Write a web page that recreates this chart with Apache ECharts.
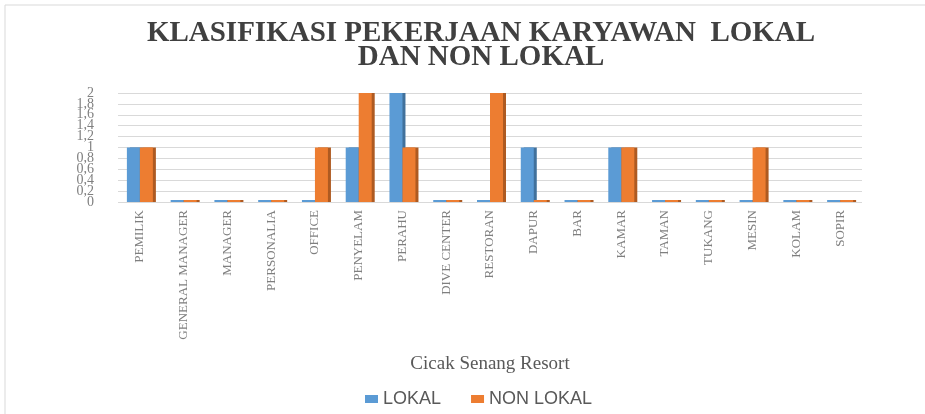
<!DOCTYPE html>
<html>
<head>
<meta charset="UTF-8"/>
<title>Klasifikasi Pekerjaan</title>
<script src="https://cdn.jsdelivr.net/npm/echarts@6/dist/echarts.min.js"></script>
<style>
html,body{margin:0;padding:0;background:#fff;}
#placeholder{width:925px;height:414px;}
</style>
</head>
<body>
<div id="placeholder"></div>
<script type="text/javascript">
var categories = ['PEMILIK','GENERAL MANAGER','MANAGER','PERSONALIA','OFFICE','PENYELAM','PERAHU','DIVE CENTER','RESTORAN','DAPUR','BAR','KAMAR','TAMAN','TUKANG','MESIN','KOLAM','SOPIR'];
var lokal    = [1,0,0,0,0,1,2,0,0,1,0,1,0,0,0,0,0];
var nonLokal = [1,0,0,0,1,2,1,0,2,0,0,1,0,0,1,0,0];
var seriesNames = ['LOKAL','NON LOKAL'];

var myChart = echarts.init(document.getElementById('placeholder'));
var serif = "Liberation Serif";

// tick labels like Excel (comma decimal); split over two axes so that
// neighbouring labels of the min/max are not dropped
function tickText(v, odd) {
  var n = Math.round(v * 5);
  if ((n % 2 === 1) !== odd) return '';
  return String(Math.round(v * 10) / 10).replace('.', ',');
}
function yAxisDef(odd) {
  return {
    type: 'value',
    position: 'left',
    min: 0, max: 2, interval: 0.2,
    axisLine: {show: false},
    axisTick: {show: false},
    splitLine: {show: !odd, lineStyle: {color: '#d9d9d9', width: 1}},
    axisLabel: {
      margin: 24, fontFamily: serif, fontSize: 14, color: '#7f7f7f',
      showMinLabel: true, showMaxLabel: true, hideOverlap: false,
      formatter: function (v) { return tickText(v, odd); }
    }
  };
}

var option = {
  backgroundColor: '#fff',
  animation: false,
  title: {
    text: 'KLASIFIKASI PEKERJAAN KARYAWAN  LOKAL\nDAN NON LOKAL',
    left: 476,
    top: 17,
    textAlign: 'center',
    textStyle: {fontFamily: "'Times New Roman', 'Liberation Serif', serif", fontWeight: 700, fontSize: 29, lineHeight: 24, color: '#404040'}
  },
  graphic: [{
    type: 'polyline', silent: true,
    shape: {points: [[5, 414], [5, 5], [925, 5]]},
    style: {stroke: '#d9d9d9', lineWidth: 1, fill: null}
  }],
  legend: {
    data: seriesNames,
    left: 360,
    top: 385,
    itemWidth: 13,
    itemHeight: 8,
    itemGap: 30,
    icon: 'rect',
    textStyle: {fontFamily: 'Liberation Sans', fontSize: 18, color: '#595959'}
  },
  grid: {left: 118, right: 63, top: 93, bottom: 212, containLabel: false},
  xAxis: {
    type: 'category',
    data: categories,
    name: 'Cicak Senang Resort',
    nameLocation: 'middle',
    nameGap: 153,
    nameTextStyle: {fontFamily: serif, fontSize: 19, color: '#595959'},
    axisLine: {show: false},
    axisTick: {show: false},
    axisLabel: {rotate: 90, interval: 0, margin: 8, fontFamily: serif, fontSize: 13, color: '#7f7f7f'}
  },
  yAxis: [yAxisDef(false), yAxisDef(true)],
  series: [
    {
      name: seriesNames[0], type: 'bar', data: lokal,
      barWidth: 13, barGap: '0%', barMinHeight: 2,
      itemStyle: {color: '#5B9BD5', shadowColor: '#41719C', shadowOffsetX: 3, shadowOffsetY: 0, shadowBlur: 0}
    },
    {
      name: seriesNames[1], type: 'bar', data: nonLokal,
      barWidth: 13, barGap: '0%', barMinHeight: 2,
      itemStyle: {color: '#ED7D31', shadowColor: '#AE5A21', shadowOffsetX: 3, shadowOffsetY: 0, shadowBlur: 0}
    }
  ]
};
myChart.setOption(option, true);
</script>
</body>
</html>
